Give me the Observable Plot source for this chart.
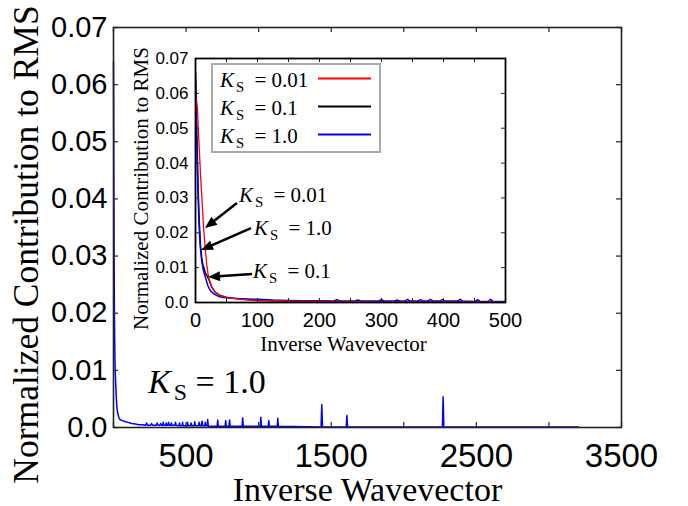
<!DOCTYPE html>
<html><head><meta charset="utf-8">
<script src="https://cdn.jsdelivr.net/npm/d3@7"></script>
<script src="https://cdn.jsdelivr.net/npm/@observablehq/plot@0.6"></script>
<style>
html,body{margin:0;padding:0;background:#fff;}
#wrap{position:relative;width:688px;height:506px;overflow:hidden;}
#wrap svg{position:absolute;left:0;top:0;}
</style></head><body><div id="wrap"></div>
<script>
const SANS = "Liberation Sans, Arial, sans-serif";
const SERIF = "Liberation Serif, Times New Roman, serif";

// ---- tick values & labels ----
const mainXTicks = [0, 500, 1000, 1500, 2000, 2500, 3000, 3500];
const mainXLabels = [500, 1500, 2500, 3500];
const yTicks = [0, 0.01, 0.02, 0.03, 0.04, 0.05, 0.06, 0.07];
const insetXLabels = [0, 100, 200, 300, 400, 500];
const insetXTicks = [0, 50, 100, 150, 200, 250, 300, 350, 400, 450, 500];
const axisTitleX = "Inverse Wavevector";
const axisTitleY = "Normalized Contribution to RMS";

// ---- series ----
const ksValues = ["0.01", "0.1", "1.0"];
const ksColors = ["#ff0000", "#000000", "#0000ff"];

// K_S = 1.0 (full range, shown in main plot and inset)
const ks10 = [
  [0,0.0640],[1,0.0560],[2,0.0470],[3,0.0390],[4,0.0320],[5,0.0260],[6,0.0215],[7,0.0180],[8,0.0155],
  [10,0.0120],[12,0.0098],[14,0.0084],[16,0.0072],[20,0.0048],[24,0.0034],[30,0.0024],[38,0.0017],
  [45,0.0014],[60,0.0012],[73,0.0011],[100,0.0009],[125,0.0007],[150,0.0006],[175,0.0005],[200,0.0005],
  [222,0.0004],[228,0.0008],[234,0.0004],[256,0.0004],[262,0.0007],[268,0.0004],[294,0.0004],[300,0.0008],
  [306,0.0004],[320,0.0004],[325,0.0007],[330,0.0004],[338,0.0004],[342,0.0009],[346,0.0004],[359,0.0004],
  [363,0.0008],[367,0.0004],[375,0.0004],[379,0.0009],[383,0.0004],[394,0.0004],[398,0.0008],[402,0.0004],
  [423,0.0004],[427,0.0009],[431,0.0004],[451,0.0003],[455,0.0008],[459,0.0003],[472,0.0003],[476,0.0009],
  [480,0.0003],[505,0.0003],[510,0.0009],[515,0.0003],[530,0.0003],[535,0.0008],[540,0.0003],[555,0.0003],
  [560,0.0010],[565,0.0003],[585,0.0003],[590,0.0009],[595,0.0003],[605,0.0003],[610,0.0011],[615,0.0003],
  [628,0.0003],[632,0.0009],[636,0.0003],[645,0.0003],[649,0.0014],[653,0.0002],
  [714,0.0002],[718,0.0013],[722,0.0002],[769,0.0002],[773,0.0012],[777,0.0002],[796,0.0002],[800,0.0013],
  [804,0.0002],[886,0.0002],[890,0.0017],[894,0.0002],[1011,0.0002],[1015,0.0018],[1019,0.0002],
  [1066,0.0002],[1070,0.0012],[1074,0.0002],[1128,0.0002],[1132,0.0016],[1136,0.0002],
  [1430,0.0001],[1435,0.0040],[1440,0.0001],[1603,0.0001],[1608,0.0021],[1613,0.0001],
  [2266,0.0001],[2271,0.0054],[2276,0.0001],[3203,0.0001]
];
// K_S = 0.1 (inset only)
const ks01 = [
  [0,0.0660],[1,0.0580],[2,0.0490],[4,0.0340],[6,0.0235],[8,0.0165],[10,0.0128],[12,0.0108],[16,0.0085],
  [21,0.0068],[26,0.0045],[32,0.0029],[40,0.0020],[52,0.0014],[75,0.0009],[100,0.0006],[150,0.0004],
  [200,0.0003],[300,0.0002],[400,0.00015],[500,0.0001]
];
// K_S = 0.01 (inset only)
const ks001 = [
  [1,0.0588],[3,0.0560],[5,0.0480],[8,0.0370],[10,0.0310],[13,0.0215],[16,0.0150],[18,0.0110],[21,0.0072],
  [26,0.0045],[32,0.0029],[40,0.0020],[52,0.0014],[75,0.0009],[100,0.0006],[150,0.0004],[200,0.0003],
  [300,0.0002],[400,0.00015],[500,0.0001]
];

// ---- annotations (data coordinates) ----
const insetNotes = [
  {ks: "0.01", textX: 71,   textY: 0.0287,  tailX: 67.7, tailY: 0.0284,  tipX: 16.1, tipY: 0.0212},
  {ks: "1.0",  textX: 95.2, textY: 0.0192,  tailX: 90.3, tailY: 0.0212,  tipX: 9.7,  tipY: 0.0149},
  {ks: "0.1",  textX: 93.5, textY: 0.00689, tailX: 91.9, tailY: 0.00803, tipX: 21.0, tipY: 0.00717}
];
const mainNote = {ks: "1.0", x: 242, y: 0.00595};

const yFmt = d => d === 0 ? "0.0" : d.toFixed(2);
const xFmt = d => String(d);

function ksText(g, x, y, ks, size, eqDx, subDx) {
  const t = g.append("text").attr("x", x).attr("y", y).attr("text-anchor", "start")
    .attr("font-family", SERIF).attr("font-size", size).attr("fill", "black");
  t.append("tspan").attr("font-style", "italic").text("K");
  t.append("tspan").attr("font-size", size * 0.7).attr("dx", subDx).attr("dy", size * 0.22).text("S");
  t.append("tspan").attr("dy", -size * 0.22).attr("dx", eqDx).text(" = " + ks);
}
function arrow(g, x1, y1, x2, y2) {
  const dx = x2 - x1, dy = y2 - y1, L = Math.hypot(dx, dy), ux = dx / L, uy = dy / L;
  const hl = 12, hw = 5;
  const bx = x2 - ux * hl, by = y2 - uy * hl;
  g.append("line").attr("x1", x1).attr("y1", y1).attr("x2", bx + ux).attr("y2", by + uy)
    .attr("stroke", "black").attr("stroke-width", 2.5);
  g.append("polygon").attr("points", `${x2},${y2} ${bx - uy * hw},${by + ux * hw} ${bx + uy * hw},${by - ux * hw}`)
    .attr("fill", "black");
}

const W = 688, H = 506;
// ---------- main chart ----------
const mM = {left: 113, right: 67, top: 27, bottom: 79};
const mPW = W - mM.left - mM.right, mPH = H - mM.top - mM.bottom;
const main = Plot.plot({
  width: W, height: H,
  marginLeft: mM.left, marginRight: mM.right, marginTop: mM.top, marginBottom: mM.bottom,
  style: {background: "white", color: "black", overflow: "visible"},
  x: {domain: [0, 3500]},
  y: {domain: [0, 0.07]},
  marks: [
    Plot.line(ks10, {x: d => d[0], y: d => d[1], stroke: ksColors[2], strokeWidth: 1.5}),
    Plot.tickX(mainXTicks, {x: d => d, insetTop: mPH - 5, stroke: "#333", strokeWidth: 1.3}),
    Plot.tickX(mainXTicks, {x: d => d, insetBottom: mPH - 5, stroke: "#333", strokeWidth: 1.3}),
    Plot.tickY(yTicks, {y: d => d, insetRight: mPW - 5, stroke: "#333", strokeWidth: 1.3}),
    Plot.tickY(yTicks, {y: d => d, insetLeft: mPW - 5, stroke: "#333", strokeWidth: 1.3}),
    Plot.frame({stroke: "#222", strokeWidth: 1.6}),
    Plot.axisX({ticks: mainXLabels, tickFormat: xFmt, tickSize: 0, tickPadding: 16, fontSize: 33, fontFamily: SANS, label: null}),
    Plot.axisY({ticks: yTicks, tickFormat: yFmt, tickSize: 0, tickPadding: 6, fontSize: 29, fontFamily: SANS, label: null}),
    Plot.text([axisTitleX], {text: d => d, frameAnchor: "bottom", dy: 73, lineAnchor: "bottom",
      fontSize: 34, fontFamily: SERIF, fill: "black"}),
    Plot.text([axisTitleY], {text: d => d, frameAnchor: "left", textAnchor: "middle", dx: -76, dy: 17, rotate: -90,
      lineAnchor: "bottom", fontSize: 35.5, fontFamily: SERIF, fill: "black"}),
    (index, scales) => {
      const g = d3.create("svg:g");
      ksText(g, scales.x(mainNote.x), scales.y(mainNote.y), mainNote.ks, 34, 0, 3);
      return g.node();
    }
  ]
});

// ---------- inset ----------
const iM = {left: 195, right: 183, top: 58, bottom: 204};
const iPW = W - iM.left - iM.right, iPH = H - iM.top - iM.bottom;
const inset = Plot.plot({
  width: W, height: H,
  marginLeft: iM.left, marginRight: iM.right, marginTop: iM.top, marginBottom: iM.bottom,
  style: {background: "transparent", color: "black", overflow: "visible"},
  x: {domain: [0, 500]},
  y: {domain: [0, 0.07]},
  marks: [
    Plot.frame({fill: "white", stroke: "none"}),
    Plot.line(ks01, {x: d => d[0], y: d => d[1], stroke: ksColors[1], strokeWidth: 1.5, clip: true}),
    Plot.line(ks10, {x: d => d[0], y: d => d[1], stroke: ksColors[2], strokeWidth: 1.5, clip: true}),
    Plot.line(ks001, {x: d => d[0], y: d => d[1], stroke: ksColors[0], strokeWidth: 1.3, clip: true}),
    Plot.tickX(insetXTicks, {x: d => d, insetTop: iPH - 4, stroke: "#222"}),
    Plot.tickX(insetXTicks, {x: d => d, insetBottom: iPH - 4, stroke: "#222"}),
    Plot.tickY(yTicks, {y: d => d, insetRight: iPW - 4, stroke: "#222"}),
    Plot.tickY(yTicks, {y: d => d, insetLeft: iPW - 4, stroke: "#222"}),
    Plot.frame({stroke: "black", strokeWidth: 1.8}),
    Plot.axisX({ticks: insetXLabels, tickFormat: xFmt, tickSize: 0, tickPadding: 10, fontSize: 20, fontFamily: SANS, label: null}),
    Plot.axisY({ticks: yTicks, tickFormat: yFmt, tickSize: 0, tickPadding: 7, fontSize: 17, fontFamily: SANS, label: null}),
    Plot.text([axisTitleX], {text: d => d, frameAnchor: "bottom", dx: -7, dy: 48, lineAnchor: "bottom",
      fontSize: 21, fontFamily: SERIF, fill: "black"}),
    Plot.text([axisTitleY], {text: d => d, frameAnchor: "left", textAnchor: "middle", dx: -48, dy: 8, rotate: -90,
      lineAnchor: "bottom", fontSize: 21, fontFamily: SERIF, fill: "black"}),
    (index, scales, values, dims) => {
      const g = d3.create("svg:g");
      for (const n of insetNotes) {
        ksText(g, scales.x(n.textX), scales.y(n.textY), n.ks, 21, 5, 2);
        arrow(g, scales.x(n.tailX), scales.y(n.tailY), scales.x(n.tipX), scales.y(n.tipY));
      }
      const L = dims.marginLeft + 17, T = dims.marginTop + 6;
      g.append("rect").attr("x", L).attr("y", T).attr("width", 168).attr("height", 88)
        .attr("fill", "white").attr("stroke", "#aaa").attr("stroke-width", 2);
      ksValues.forEach((k, i) => {
        const base = T + 23 + i * 28;
        ksText(g, L + 8, base, k, 21, 5, 2);
        g.append("line").attr("x1", L + 106).attr("x2", L + 159).attr("y1", base - 8.5).attr("y2", base - 8.5)
          .attr("stroke", ksColors[i]).attr("stroke-width", 2);
      });
      return g.node();
    }
  ]
});

const wrap = document.getElementById("wrap");
wrap.appendChild(main);
wrap.appendChild(inset);
</script></body></html>
